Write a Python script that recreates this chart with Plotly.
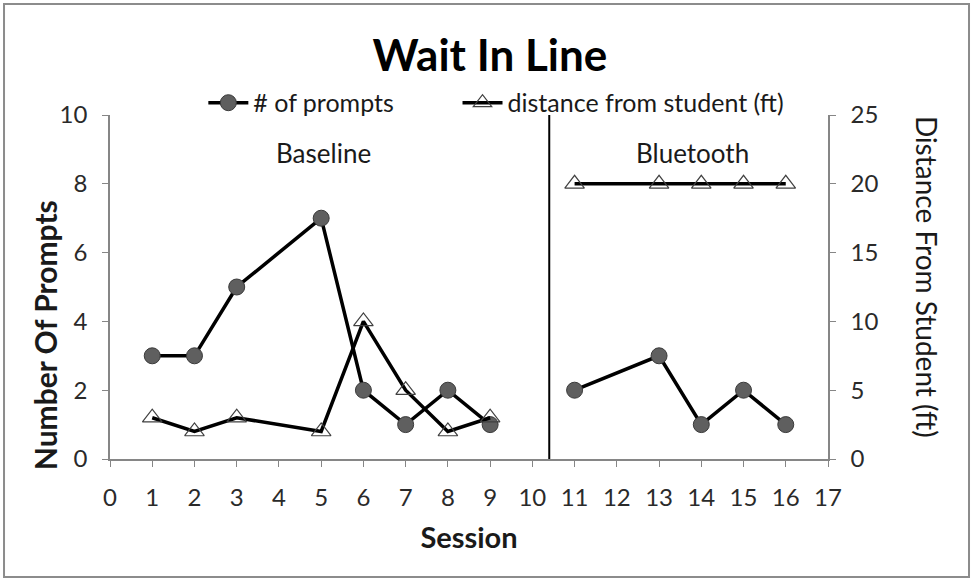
import plotly.graph_objects as go

# Session numbers and observations
sessions_baseline = [1, 2, 3, 5, 6, 7, 8, 9]
prompts_baseline = [3, 3, 5, 7, 2, 1, 2, 1]
distance_baseline = [3, 2, 3, 2, 10, 5, 2, 3]

sessions_bluetooth = [11, 13, 14, 15, 16]
prompts_bluetooth = [2, 3, 1, 2, 1]
distance_bluetooth = [20, 20, 20, 20, 20]

phase_change = 10.4
phase_labels = ["Baseline", "Bluetooth"]
phase_label_x = [5.05, 13.8]

FONT = "Lato"
AXIS_GREY = "#868686"
TEXT = "#1a1a1a"

fig = go.Figure()

circle_marker = dict(symbol="circle", size=16, color="#5f5f5f",
                     line=dict(color="#3a3a3a", width=1))
tri_marker = dict(symbol="triangle-up-open", size=17, color="#404040",
                  line=dict(width=1.2))
line_style = dict(color="black", width=3.5)

fig.add_trace(go.Scatter(x=sessions_baseline, y=prompts_baseline, mode="lines+markers",
                         name="# of prompts", line=line_style, marker=circle_marker,
                         legendgroup="p", legend="legend"))
fig.add_trace(go.Scatter(x=sessions_bluetooth, y=prompts_bluetooth, mode="lines+markers",
                         name="# of prompts", line=line_style, marker=circle_marker,
                         legendgroup="p", showlegend=False))
fig.add_trace(go.Scatter(x=sessions_baseline, y=distance_baseline, mode="lines+markers",
                         name="distance from student (ft)", line=line_style,
                         marker=tri_marker, yaxis="y2", legendgroup="d", legend="legend2"))
fig.add_trace(go.Scatter(x=sessions_bluetooth, y=distance_bluetooth, mode="lines+markers",
                         name="distance from student (ft)", line=line_style,
                         marker=tri_marker, yaxis="y2", legendgroup="d", showlegend=False))

# phase change line
fig.add_shape(type="line", xref="x", yref="paper", x0=phase_change, x1=phase_change,
              y0=0, y1=1, line=dict(color="black", width=2))

# outer chart frame
fig.add_shape(type="rect", xref="paper", yref="paper",
              x0=-0.1476, x1=1.1964, y0=-0.343, y1=1.3227,
              line=dict(color="#8c8c8c", width=2), layer="below")

for lab, xv in zip(phase_labels, phase_label_x):
    fig.add_annotation(x=xv, y=8.9, xref="x", yref="y", text=lab, showarrow=False,
                       font=dict(family=FONT, size=26, color=TEXT))

# axis titles
fig.add_annotation(x=-0.0905, y=0.36, xref="paper", yref="paper",
                   xanchor="center", yanchor="middle",
                   text="<b>Number Of Prompts</b>", textangle=-90,
                   showarrow=False, font=dict(family=FONT, size=30, color=TEXT))
fig.add_annotation(x=1.139, y=0.53, xref="paper", yref="paper",
                   xanchor="center", yanchor="middle",
                   text="Distance From Student (ft)", textangle=90,
                   showarrow=False, font=dict(family=FONT, size=28, color=TEXT))

axis_common = dict(showgrid=False, zeroline=False, showline=True, linecolor=AXIS_GREY,
                   linewidth=1.5, ticks="outside", tickcolor=AXIS_GREY, ticklen=6,
                   tickfont=dict(family=FONT, size=24, color="#2a2a2a"))

legend_common = dict(orientation="h", xanchor="left", y=1.035, yanchor="middle",
                     font=dict(family=FONT, size=25, color=TEXT),
                     bgcolor="rgba(0,0,0,0)", itemwidth=40)

fig.update_layout(
    width=974, height=581, autosize=False,
    margin=dict(l=110, r=146, t=115, b=122),
    paper_bgcolor="white", plot_bgcolor="white",
    title=dict(text="<b>Wait In Line</b>", x=0.503, xanchor="center",
               y=0.905, yanchor="middle",
               font=dict(family=FONT, size=44, color="black")),
    xaxis=dict(range=[0, 17], dtick=1, tick0=0, ticklabelstandoff=10,
               title=dict(text="<b>Session</b>", font=dict(family=FONT, size=29, color=TEXT),
                          standoff=18),
               **axis_common),
    yaxis=dict(range=[0, 10], dtick=2, ticklabelstandoff=10, **axis_common),
    yaxis2=dict(range=[0, 25], dtick=5, overlaying="y", side="right",
                ticklabelstandoff=10, **axis_common),
    legend=dict(x=0.13, **legend_common),
    legend2=dict(x=0.484, **legend_common),
    showlegend=True,
)

fig.write_html("out.html")
